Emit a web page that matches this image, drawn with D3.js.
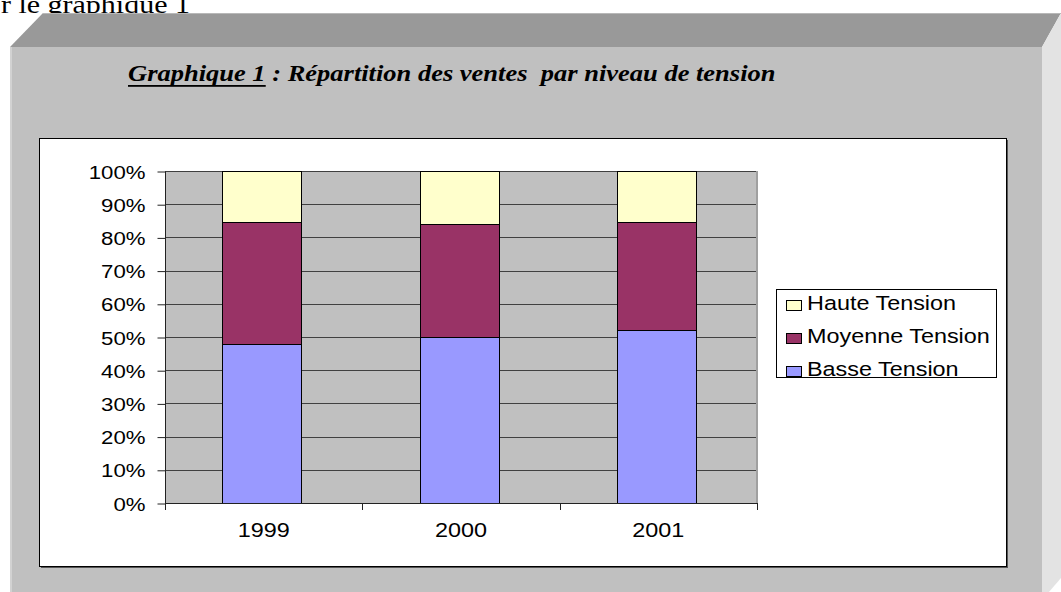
<!DOCTYPE html>
<html>
<head>
<meta charset="utf-8">
<script src="https://cdn.jsdelivr.net/npm/d3@7"></script>
<style>
  html, body { margin: 0; padding: 0; background: #fff; overflow: hidden; }
  svg { display: block; }
</style>
</head>
<body>
<svg id="chart" width="1061" height="592"></svg>
<script>
/* Graphique 1 : stacked 100% bars, ventes par niveau de tension */
const YEARS = ["1999", "2000", "2001"];
const BASSE = [48, 50, 52];
const MOYENNE = [36.5, 34, 32.5];
const HAUTE = [15.5, 16, 15.5];
const SERIES = ["Basse Tension", "Moyenne Tension", "Haute Tension"];
const COLORS = ["#9999ff", "#993366", "#ffffcc"];
const Y_TICKS = [0, 10, 20, 30, 40, 50, 60, 70, 80, 90, 100];

(function () {
const svg = d3.select("#chart");
const SX = 1.2; // the source picture is stretched horizontally

// text above the frame (cut off by the page)
const headLine = svg.append("g").attr("transform", `translate(190, 13) scale(${SX},1)`);
headLine.append("text").attr("text-anchor", "end")
    .attr("font-family", "'Liberation Serif', 'Times New Roman', serif")
    .attr("font-size", 25).attr("fill", "#000")
    .text("r le graphique 1");

// bevelled frame
svg.append("polygon").attr("points", "10,47 43,13 1061,13 1042,47").attr("fill", "#999999");
svg.append("rect").attr("x", 10).attr("y", 47).attr("width", 1032).attr("height", 560).attr("fill", "#c0c0c0");
svg.append("rect").attr("x", 10).attr("y", 47).attr("width", 2).attr("height", 560).attr("fill", "#d2d2d2");
svg.append("polygon").attr("points", "1042,47 1061,13 1061,578 1042,600").attr("fill", "#e3e3e3");
svg.append("line").attr("x1", 43).attr("x2", 1061).attr("y1", 13.5).attr("y2", 13.5).attr("stroke", "#b8b8b8");

// title
const tg = svg.append("g");
const title = tg.append("text")
    .attr("font-family", "'Liberation Serif', 'Times New Roman', serif")
    .attr("font-size", 23).attr("font-weight", "bold").attr("font-style", "italic")
    .attr("fill", "#000")
    .style("white-space", "pre")
    .text("Graphique 1 : Répartition des ventes  par niveau de tension");
const tLen = title.node().getComputedTextLength();
const uLen = title.node().getSubStringLength(0, 11);
tg.attr("transform", `translate(128, 81) scale(${648 / tLen},1)`);
tg.append("rect").attr("x", 0).attr("y", 4).attr("width", uLen).attr("height", 1.8).attr("fill", "#000");

// white chart area with shadow
svg.append("rect").attr("x", 41).attr("y", 140).attr("width", 967).attr("height", 428).attr("fill", "#555");
svg.append("rect").attr("x", 39.5).attr("y", 138.5).attr("width", 967).attr("height", 428)
    .attr("fill", "#fff").attr("stroke", "#000").attr("stroke-width", 1);

// plot
const x = d3.scaleBand().domain(YEARS).range([165, 757]).paddingInner(0.6).paddingOuter(0.3);
const y = d3.scaleLinear().domain([0, 100]).range([503, 171]);

svg.append("rect").attr("x", 165).attr("y", 171).attr("width", 592).attr("height", 332).attr("fill", "#c0c0c0");

svg.append("g").selectAll("line").data(Y_TICKS.slice(1)).join("line")
    .attr("x1", 165).attr("x2", 757)
    .attr("y1", d => Math.round(y(d)) + 0.5).attr("y2", d => Math.round(y(d)) + 0.5)
    .attr("stroke", "#404040").attr("stroke-width", 1);
svg.append("line").attr("x1", 757).attr("x2", 757).attr("y1", 171).attr("y2", 503)
    .attr("stroke", "#a0a0a0").attr("stroke-width", 2);

// stacked bars
const rows = YEARS.map((yr, i) => ({ year: yr, "Basse Tension": BASSE[i], "Moyenne Tension": MOYENNE[i], "Haute Tension": HAUTE[i] }));
const stacked = d3.stack().keys(SERIES)(rows);
svg.append("g").selectAll("g").data(stacked).join("g")
    .attr("fill", (d, i) => COLORS[i])
    .selectAll("rect").data(d => d).join("rect")
    .attr("x", d => Math.round(x(d.data.year)) - 1.5)
    .attr("y", d => Math.round(y(d[1])) + 0.5)
    .attr("width", Math.round(x.bandwidth()))
    .attr("height", d => Math.round(y(d[0])) - Math.round(y(d[1])))
    .attr("stroke", "#000").attr("stroke-width", 1);

// y axis
const yAxis = svg.append("g").attr("transform", "translate(165.5,0.5)")
    .call(d3.axisLeft(y).tickValues(Y_TICKS).tickSize(8).tickFormat(d => d + "%"));
yAxis.select(".domain").attr("d", "M0,171V509").attr("stroke", "#222");
yAxis.selectAll(".tick line").attr("stroke", "#222");
yAxis.selectAll(".tick text")
    .attr("x", -20 / SX).attr("dy", "0.36em")
    .attr("transform", `scale(${SX},1)`)
    .attr("font-family", "'Liberation Sans', Arial, sans-serif")
    .attr("font-size", 18.5).attr("fill", "#000");

// x axis
svg.append("line").attr("x1", 165).attr("x2", 757).attr("y1", 503.5).attr("y2", 503.5).attr("stroke", "#222");
const bounds = YEARS.map(d => x(d) - x.step() * x.paddingOuter()).concat([757]);
svg.append("g").selectAll("line").data(bounds).join("line")
    .attr("x1", d => Math.round(d) + 0.5).attr("x2", d => Math.round(d) + 0.5)
    .attr("y1", 503).attr("y2", 510).attr("stroke", "#222");
svg.append("g").selectAll("g").data(YEARS).join("g")
    .attr("transform", d => `translate(${x(d) + x.bandwidth() / 2}, 537) scale(${SX},1)`)
    .append("text").attr("text-anchor", "middle")
    .attr("font-family", "'Liberation Sans', Arial, sans-serif")
    .attr("font-size", 19.5).attr("fill", "#000")
    .text(d => d);

// legend
const legend = svg.append("g");
legend.append("rect").attr("x", 776.5).attr("y", 289.5).attr("width", 220).attr("height", 88)
    .attr("fill", "#fff").attr("stroke", "#000");
const legendItems = [2, 1, 0];
const li = legend.selectAll("g.item").data(legendItems).join("g").attr("class", "item")
    .attr("transform", (d, i) => `translate(0, ${310 + i * 33})`);
li.append("rect").attr("x", 786.5).attr("y", -9.5).attr("width", 15).attr("height", 10)
    .attr("fill", d => COLORS[d]).attr("stroke", "#000");
li.append("text").attr("transform", `translate(807,0) scale(${SX},1)`)
    .attr("font-family", "'Liberation Sans', Arial, sans-serif")
    .attr("font-size", 19.5).attr("fill", "#000")
    .text(d => SERIES[d]);
})();
</script>
</body>
</html>
